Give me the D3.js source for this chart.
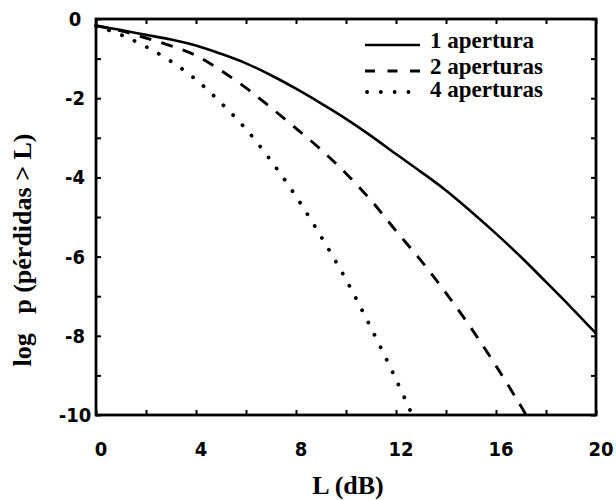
<!DOCTYPE html>
<html><head><meta charset="utf-8">
<script src="https://cdn.jsdelivr.net/npm/d3@7"></script>
<style>body{margin:0;background:#fff}</style>
</head><body>
<svg id="c" width="616" height="500"></svg>
<script>
const seriesNames = ["1 apertura", "2 aperturas", "4 aperturas"];
const xTicks = [0, 4, 8, 12, 16, 20];
const yTicks = [0, -2, -4, -6, -8, -10];
const s1x = [0,1,2,3,4,5,6,7,8,9,10,11,12,13,14,15,16,17,18,19,20];
const s1y = [-0.17,-0.28,-0.40,-0.52,-0.67,-0.88,-1.12,-1.42,-1.76,-2.13,-2.52,-2.95,-3.41,-3.86,-4.33,-4.86,-5.42,-6.01,-6.64,-7.28,-7.94];
const s2x = [0,1,2,3,4,5,6,7,8,9,10,11,12,13,14,15,16,17,17.2];
const s2y = [-0.17,-0.3,-0.48,-0.68,-0.92,-1.3,-1.74,-2.24,-2.76,-3.3,-3.9,-4.58,-5.35,-6.1,-6.92,-7.8,-8.76,-9.78,-10.0];
const s3x = [0,1,2,3,4,5,6,7,8,9,10,11,12,12.65];
const s3y = [-0.17,-0.4,-0.7,-1.07,-1.53,-2.12,-2.78,-3.58,-4.48,-5.49,-6.58,-7.8,-9.1,-10.0];

const L = 96, T = 19, R = 596, B = 415;
const svg = d3.select("#c");
const x = d3.scaleLinear().domain([0,20]).range([L,R]);
const y = d3.scaleLinear().domain([-10,0]).range([B,T]);

const tickFont = "'Liberation Sans Narrow','DejaVu Sans Condensed',Arial,sans-serif";
const serif = "'Liberation Serif','Times New Roman',serif";

// minor ticks (inward)
const xMinor = d3.range(0, 21, 2);
const yMinor = d3.range(-10, 1, 1);
const axB = d3.axisBottom(x).tickValues(xMinor).tickSize(-5).tickFormat("");
const axT = d3.axisTop(x).tickValues(xMinor).tickSize(-5).tickFormat("");
const axLf = d3.axisLeft(y).tickValues(yMinor).tickSize(-5).tickFormat("");
const axRt = d3.axisRight(y).tickValues(yMinor).tickSize(-5).tickFormat("");
[[axB,`translate(0,${B})`],[axT,`translate(0,${T})`],[axLf,`translate(${L},0)`],[axRt,`translate(${R},0)`]].forEach(([a,t])=>{
  const g = svg.append("g").attr("transform", t).call(a);
  g.select(".domain").remove();
  g.selectAll("line").attr("stroke","#000").attr("stroke-width",2);
});
svg.append("rect").attr("x",L).attr("y",T).attr("width",R-L).attr("height",B-T)
  .attr("fill","none").attr("stroke","#000").attr("stroke-width",2.8);

// tick labels
svg.append("g").selectAll("text").data(xTicks).join("text")
  .attr("x", d=>x(d)+5).attr("y", B+41).attr("text-anchor","middle")
  .attr("font-family", tickFont).attr("font-weight","bold").attr("font-size",20)
  .text(d=>d);
svg.append("g").selectAll("text").data(yTicks).join("text")
  .attr("x", L-21).attr("y", d=>y(d)+7).attr("text-anchor","middle")
  .attr("font-family", tickFont).attr("font-weight","bold").attr("font-size",20)
  .text(d=>d);

// axis titles
svg.append("text").attr("x", 348).attr("y", 494).attr("text-anchor","middle")
  .attr("font-family", serif).attr("font-weight","bold").attr("font-size",26)
  .text("L (dB)");
svg.append("text").attr("transform","translate(31,250) rotate(-90)").attr("text-anchor","middle")
  .attr("font-family", serif).attr("font-weight","bold").attr("font-size",26)
  .attr("xml:space","preserve")
  .text("log   p (pérdidas > L)");

// curves
const styles = [
  {dash: null, width: 2.6, cap: "butt"},
  {dash: "12 10.5", width: 2.9, cap: "butt"},
  {dash: "0.1 13.7", width: 3.8, cap: "round"}
];
const data = [[s1x,s1y],[s2x,s2y],[s3x,s3y]].map(([xs,ys]) => xs.map((v,i)=>[v, ys[i]]));
const line = d3.line().x(d=>x(d[0])).y(d=>y(d[1])).curve(d3.curveCatmullRom.alpha(0.5));
data.forEach((d,i)=>{
  svg.append("path").datum(d).attr("d", line).attr("fill","none")
    .attr("stroke","#000").attr("stroke-width", styles[i].width)
    .attr("stroke-dasharray", styles[i].dash).attr("stroke-linecap", styles[i].cap);
});

// legend
const legY = [48, 74, 97];
const legOff = [3, 3, 5];
const legX2 = [420, 420, 409];
const legDash = [null, "10 12.5", "0.1 13.7"];
seriesNames.forEach((n,i)=>{
  const yy = legY[i];
  svg.append("line").attr("x1", i===2 ? 367 : 365).attr("x2", legX2[i])
    .attr("y1", yy - legOff[i]).attr("y2", yy - legOff[i])
    .attr("stroke","#000").attr("stroke-width", styles[i].width)
    .attr("stroke-dasharray", legDash[i])
    .attr("stroke-linecap", styles[i].cap);
  svg.append("text").attr("x", 430).attr("y", yy)
    .attr("font-family", serif).attr("font-weight","bold").attr("font-size",23)
    .text(n);
});
</script>
</body></html>
